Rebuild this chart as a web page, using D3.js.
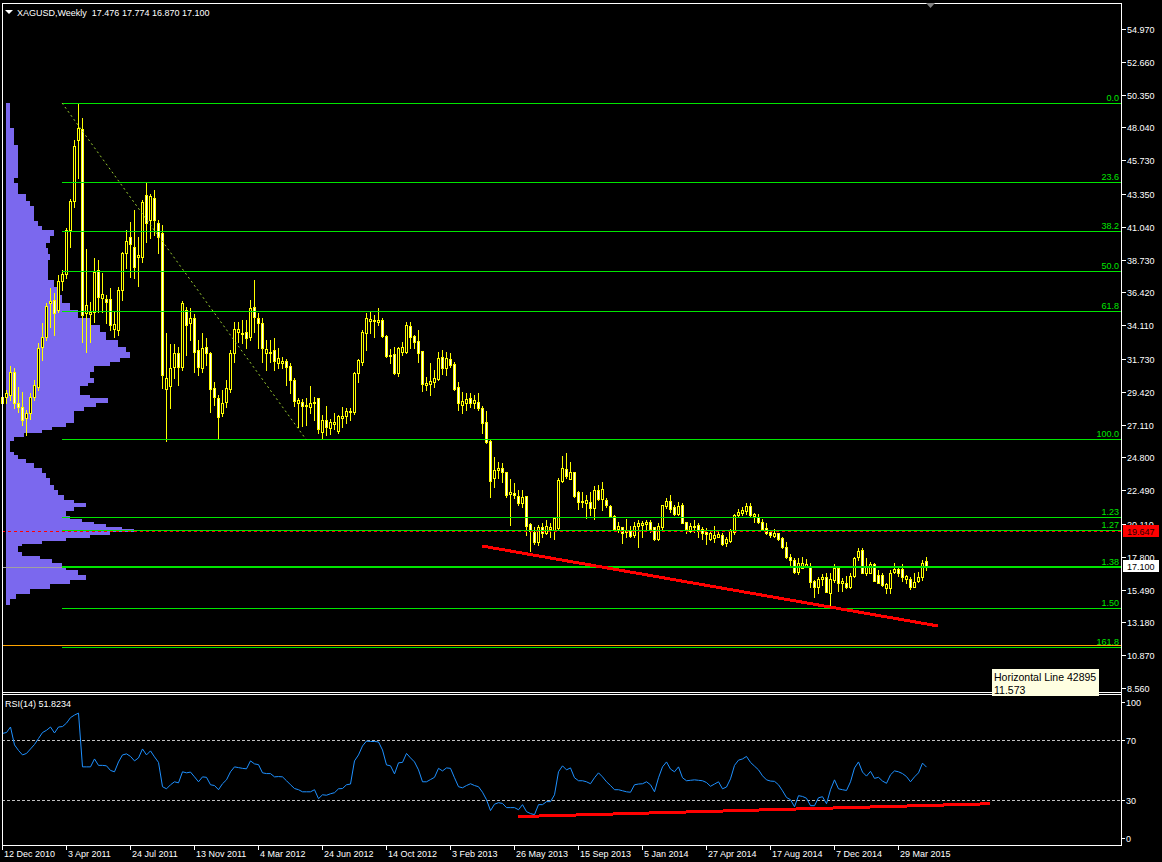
<!DOCTYPE html>
<html><head><meta charset="utf-8">
<script src="https://cdn.jsdelivr.net/npm/d3@7"></script>
<style>
html,body{margin:0;padding:0;background:#000;overflow:hidden;}
svg{display:block;}
text{font-family:"Liberation Sans",Arial,sans-serif;font-size:9px;}
</style></head><body>
<svg id="c" width="1162" height="862"></svg>
<script>
// ---------------- data ----------------
const symbolTitle = "XAGUSD,Weekly  17.476 17.774 16.870 17.100";
const rsiTitle = "RSI(14) 51.8234";
const firstWeek = "2010-12-12";
const open = [
28.63,29.05,29.20,30.81,28.63,28.35,27.58,27.93,29.05,29.76,
32.57,33.28,35.67,35.89,35.18,37.22,37.72,40.82,42.86,47.15,
47.93,34.97,34.90,35.04,38.00,36.03,35.96,35.96,33.84,33.77,
36.59,39.20,40.32,39.62,38.91,38.91,43.28,41.52,43.07,41.31,
40.60,29.62,29.83,31.17,32.15,31.17,35.18,34.27,34.62,32.36,
31.10,32.57,32.15,29.69,28.98,27.93,28.70,29.62,32.15,33.63,
33.49,33.63,33.28,35.39,34.62,34.27,32.15,32.22,32.36,31.45,
31.45,31.59,31.24,30.25,28.63,28.70,28.42,28.35,28.63,28.98,
26.59,27.44,26.87,27.15,26.66,27.58,27.72,28.00,28.00,30.74,
31.52,33.56,34.41,34.41,34.34,34.48,33.35,31.94,32.08,30.74,
32.22,32.22,34.05,33.35,33.00,32.29,29.90,29.97,30.11,30.32,
31.87,31.10,31.73,31.38,29.76,28.49,28.63,28.98,28.63,28.70,
28.28,27.30,25.96,23.35,23.91,24.05,23.77,22.22,22.29,22.08,
21.59,22.08,20.11,19.55,18.84,19.90,19.48,19.76,19.69,19.83,
23.14,23.98,23.28,23.77,22.36,21.73,21.59,21.66,21.24,22.51,
21.87,21.80,21.38,20.67,19.76,19.90,19.55,19.62,19.34,19.97,
20.04,20.11,20.25,19.90,19.05,19.90,21.38,21.73,21.31,20.81,
21.45,20.25,19.62,19.90,20.04,19.76,19.55,19.05,19.12,19.20,
19.34,18.77,18.91,19.55,20.74,20.88,21.03,21.38,20.67,20.60,
20.25,19.83,19.55,19.27,19.48,19.12,18.49,17.79,17.58,16.73,
17.01,17.15,17.08,16.10,15.67,16.24,16.38,15.25,16.17,17.01,
15.96,15.96,15.67,16.45,17.79,18.28,16.66,16.66,17.29,16.52,
16.52,15.60,15.60,16.73,16.94,16.94,16.24,16.24,15.67,16.10,
16.38,17.476];
const high = [
29.90,29.55,31.24,31.10,29.76,29.41,28.14,29.34,30.25,32.86,
34.27,35.67,36.73,36.38,37.65,38.00,40.96,43.00,47.15,49.76,
48.70,39.48,35.74,38.84,38.70,37.79,36.24,36.73,35.04,36.80,
39.27,40.82,41.38,42.22,40.32,42.93,44.12,43.35,43.63,41.52,
41.17,33.56,32.79,32.79,32.57,35.81,35.39,35.32,34.90,33.07,
33.56,33.21,32.22,30.11,29.20,29.55,30.25,32.36,34.34,34.34,
34.48,34.48,35.89,37.29,34.97,34.62,33.07,33.07,33.21,32.50,
31.87,31.73,31.45,30.39,28.98,28.91,28.98,29.83,29.05,29.00,
27.79,28.42,27.51,27.93,27.79,28.35,28.28,28.28,30.81,31.70,
33.77,34.97,35.04,34.83,35.32,34.62,33.42,32.43,32.57,32.57,
32.93,34.34,34.34,33.42,33.77,32.32,30.46,31.45,30.96,32.22,
32.36,32.22,32.15,31.52,30.11,29.41,29.34,29.34,29.20,29.34,
28.42,28.07,26.03,24.83,24.48,24.41,23.80,23.28,23.00,22.51,
22.51,22.10,20.18,19.90,20.04,20.18,20.39,20.18,20.55,23.35,
24.90,25.11,24.48,23.80,22.40,22.36,22.15,22.36,22.79,22.86,
23.07,21.94,21.45,20.74,20.25,19.92,20.46,19.97,20.25,20.39,
20.32,20.39,20.39,19.92,20.18,21.48,21.94,22.15,21.45,21.66,
21.59,20.27,20.18,20.39,20.18,19.90,19.83,19.55,19.97,19.55,
19.48,19.20,19.76,20.81,21.17,21.31,21.59,21.59,20.88,20.81,
20.46,20.18,19.69,19.76,19.50,19.20,18.84,18.00,17.72,17.72,
17.79,17.65,17.36,16.17,16.38,16.59,16.66,16.66,17.29,17.03,
16.31,16.45,16.66,17.79,18.42,18.42,17.72,17.43,17.36,16.87,
16.66,15.96,16.87,17.36,17.08,17.29,16.52,16.38,16.66,16.73,
17.58,17.774];
const low = [
28.28,28.63,28.84,28.28,28.00,27.08,26.38,27.51,28.84,29.55,
31.66,33.07,33.99,33.42,35.04,36.59,37.43,39.62,42.45,44.48,
32.93,32.22,32.93,34.34,35.04,35.04,34.27,33.77,33.28,33.42,
35.89,38.14,37.50,37.43,36.87,38.56,39.97,40.25,40.46,39.20,
29.69,25.96,28.28,30.39,29.90,30.96,32.01,33.07,30.81,30.60,
30.81,31.31,28.00,28.49,26.10,27.72,28.35,29.41,31.52,32.93,
32.86,32.50,33.07,33.63,32.50,31.52,30.96,31.52,30.96,31.10,
31.10,29.90,29.34,28.42,26.94,27.01,27.08,27.93,27.44,26.52,
26.17,26.38,26.45,26.80,26.52,26.94,27.22,27.44,27.86,30.11,
31.31,32.36,33.56,33.28,34.13,33.28,31.87,31.45,30.67,30.53,
32.01,32.15,32.50,32.50,31.52,29.48,29.55,29.20,29.76,30.25,
30.67,30.60,31.17,29.55,28.14,27.93,28.14,28.35,28.28,28.14,
26.52,25.82,22.01,22.72,23.35,23.07,22.01,20.04,21.94,21.45,
21.31,19.34,18.21,18.70,18.63,19.20,19.41,19.20,19.05,19.69,
23.07,23.35,23.25,22.01,21.17,21.31,20.53,20.74,20.46,21.80,
21.10,21.31,20.60,19.72,19.55,18.77,19.20,19.20,19.20,18.49,
19.20,19.69,19.55,18.98,18.98,19.76,21.24,20.96,20.74,20.74,
20.15,19.48,19.55,19.55,19.20,19.05,18.70,18.98,18.84,19.18,
18.63,18.56,18.84,19.41,20.60,20.74,20.81,20.60,20.25,20.18,
19.69,19.41,19.20,19.20,18.98,18.42,17.72,17.23,16.66,16.59,
16.98,17.08,15.67,14.97,15.22,15.81,15.30,14.27,16.03,15.39,
15.39,15.60,15.60,16.38,17.58,16.63,16.52,16.63,16.08,15.94,
15.74,15.25,15.25,16.66,16.45,16.10,15.96,15.53,15.64,16.03,
16.17,16.870];
const close = [
29.05,29.34,30.81,28.63,28.35,27.44,27.93,29.05,29.90,32.50,
33.28,35.46,35.81,34.97,37.22,37.72,40.82,42.86,46.73,48.00,
34.83,35.53,35.04,37.86,36.10,36.31,35.74,34.13,34.20,36.59,
39.20,40.04,39.83,38.21,39.05,42.79,41.31,43.21,41.52,40.32,
30.60,30.39,31.10,32.15,31.17,35.67,34.13,34.62,32.22,31.17,
32.50,32.15,29.62,29.05,27.65,28.63,29.69,32.15,33.84,33.84,
33.56,33.21,35.32,34.69,34.27,32.50,32.43,32.25,31.59,31.80,
31.59,31.17,30.25,28.77,28.84,28.42,28.49,28.63,28.70,26.80,
27.44,26.94,27.30,27.30,27.72,27.72,28.07,28.07,30.74,31.66,
33.63,34.62,34.55,34.45,34.48,33.35,31.94,32.01,30.74,32.50,
32.57,34.13,33.28,32.93,32.15,29.97,30.04,30.18,30.39,31.80,
31.10,31.80,31.31,29.62,28.63,28.77,28.91,28.63,28.84,28.28,
27.22,25.89,23.14,23.91,24.05,23.77,22.15,22.36,22.15,21.59,
22.01,19.97,19.62,18.84,19.90,19.48,19.97,19.90,20.53,23.21,
24.05,23.49,23.77,22.08,21.66,21.76,21.80,21.24,22.51,21.87,
22.58,21.45,20.67,19.76,19.97,19.48,19.69,19.27,19.97,20.18,
20.18,20.25,19.76,19.05,19.97,21.45,21.73,21.17,20.81,21.38,
20.18,19.76,19.97,19.97,19.62,19.48,19.41,19.48,19.34,19.41,
18.70,19.05,19.62,20.74,20.96,21.10,21.38,20.74,20.81,20.25,
19.76,19.48,19.34,19.48,19.05,18.49,17.79,17.58,16.73,17.36,
17.36,17.29,16.03,15.67,16.24,16.38,15.32,16.24,17.01,15.96,
16.10,15.67,16.45,17.72,18.21,16.66,17.08,17.29,16.10,15.96,
15.81,15.88,16.66,16.94,16.66,16.38,16.45,15.67,16.03,16.38,
17.36,17.100];
const rsi = [
74.4,75,78.7,66.7,63,60,61,64,67,71,
75,76.5,78.7,74.7,78.7,79,81.3,85,86.7,88,
52,52,52,57.3,53,53,52.7,49.6,48.7,55.3,
60,60.7,59,56,58,64,60,62.7,58.7,55,
38.7,37.3,40,42,41.3,48.7,48,48.5,45.3,42,
45.3,45,40,39.5,36.7,40.7,43.3,48.7,52,51.5,
51,50.7,56,54,53.5,48,47.5,47.5,45.3,45.5,
45.3,42.7,40,37.5,36.7,35.3,35.3,35.3,36.7,30.7,
33.3,33,34,34.7,37.3,37.5,40,40.5,56,60,
66,69.3,69,69,68.7,63.3,53.3,52.7,47.3,54.7,
55,61,58,55.3,50,42,42,43.5,45,51,
49.3,51.3,51,44.7,38.7,38,39.5,40.7,39.5,38.7,
35,30,22.7,27,28,27.5,24.7,24.7,24.7,23.3,
26.7,22,20.7,20,26.7,26.7,28.7,28.7,33.3,48.7,
52.7,50,51.3,44.7,42.7,42.7,42,40.7,44.7,48,
45.3,42,39.5,36.7,36.7,36,35.3,35,40,40.5,
40.7,42,40,35.3,44.7,52,55.3,50.5,48.7,52,
44.7,42.7,43,43.3,43,42.7,41.5,39,40.5,42,
37.3,38.5,44,53,56.5,57.3,59,55,52.5,50,
46,43.3,42.5,42.3,40,36,31.5,30,25.3,32.7,
32.2,31,26,26,31.3,32,27.3,36.7,43.3,37.3,
36.7,36.2,42,51.3,55.3,48.5,45.8,49,44.3,45,
42.5,41,46.7,49.3,48.7,47.5,45.5,42,45.3,48,
54.5,51.82];
const priceTicks = [54.970,52.660,50.350,48.040,45.730,43.350,41.040,38.730,36.420,34.110,31.730,29.420,27.110,24.800,22.490,20.110,17.800,15.490,13.180,10.870,8.560];
const rsiTicks = [100,70,30,0];
const rsiLevels = [70,30];
const dateTicks = ["12 Dec 2010","3 Apr 2011","24 Jul 2011","13 Nov 2011","4 Mar 2012","24 Jun 2012","14 Oct 2012","3 Feb 2013","26 May 2013","15 Sep 2013","5 Jan 2014","27 Apr 2014","17 Aug 2014","7 Dec 2014","29 Mar 2015"];
const fibHigh = 49.76, fibLow = 26.07;
const fibAnchorBars = [15, 76];
const fibRatios = [0,0.236,0.382,0.5,0.618,1.0,1.23,1.27,1.38,1.5,1.618];
const fibLabels = ["0.0","23.6","38.2","50.0","61.8","100.0","1.23","1.27","1.38","1.50","161.8"];
const bidPrice = 17.100;
const markPrice = 19.647;
const hLinePrice = 11.573;
const hLineName = "Horizontal Line 42895";
const trendMain = [[120, 18.56],[234, 12.93]];
const trendRsi = [[129, 18.7],[247, 27.3]];
const profileEdges = [49.76,48.00,46.80,44.48,44.12,43.35,42.86,42.50,42.15,41.45,41.10,40.82,40.39,39.90,39.55,39.12,38.70,38.00,37.29,36.80,36.24,35.67,35.18,34.62,34.13,33.63,33.07,32.57,32.22,31.80,31.52,31.24,30.81,30.39,30.04,29.83,29.55,29.20,28.98,28.63,28.35,28.07,27.65,27.22,26.94,26.73,26.52,26.24,25.96,25.18,24.97,24.69,24.41,24.05,23.70,23.35,22.86,22.51,22.15,21.80,21.59,21.31,21.03,20.67,20.46,20.25,20.11,19.90,19.76,19.55,19.34,19.12,18.91,18.70,18.56,18.14,17.86,17.65,17.36,17.15,16.87,16.52,16.17,15.88,15.53,15.18,14.83,14.41];
const profileCounts = [4,8,12,8,12,20,24,28,28,32,36,48,44,40,42,44,42,42,48,52,56,64,72,84,94,100,112,120,124,114,104,88,84,88,82,74,74,84,102,90,78,68,68,60,46,36,18,8,4,8,12,20,28,36,40,44,48,52,58,68,80,68,60,64,76,88,100,116,128,104,84,60,36,16,12,16,34,46,56,60,72,80,64,44,24,10,4];

// ---------------- layout ----------------
const L = 2, R = 1121, MT = 3, MB = 691, RT = 694, RB = 845, barStep = 4;
const WEEK = 7*864e5;
const t0 = d3.utcParse("%Y-%m-%d")(firstWeek);
const n = Math.min(open.length, high.length, low.length, close.length);
const barDate = i => new Date(t0.getTime() + i*WEEK);
const x = d3.scaleUtc().domain([barDate(0), barDate(n-1)]).range([L, L + (n-1)*barStep]);
const y = d3.scaleLinear().domain([8.42, 56.87]).range([690, 2]);
const ry = d3.scaleLinear().domain([0, 100]).range([844.5, 695.2]);
const pw = d3.scaleLinear().domain([0, 100]).range([0, 100]);
const px = v => Math.round(v) + 0.5;
const bx = i => Math.round(x(barDate(i)));

const svg = d3.select("#c");
svg.append("rect").attr("width",1162).attr("height",862).attr("fill","#000");

const main = svg.append("g").attr("shape-rendering","crispEdges");

// volume profile
main.append("g").selectAll("rect").data(profileCounts).join("rect")
  .attr("x", 6)
  .attr("y", (d,i) => Math.round(y(profileEdges[i])))
  .attr("width", d => Math.round(pw(d)))
  .attr("height", (d,i) => Math.max(1, Math.round(y(profileEdges[i+1])) - Math.round(y(profileEdges[i]))))
  .attr("fill", "#7b68ee");

// candles
const cg = main.append("g");
const idx = d3.range(n);
cg.selectAll("rect.w").data(idx).join("rect").attr("class","w")
  .attr("x", i => bx(i)).attr("width", 1)
  .attr("y", i => Math.round(y(high[i])))
  .attr("height", i => Math.max(1, Math.round(y(low[i])) - Math.round(y(high[i])) + 1))
  .attr("fill", "#ffff00");
cg.selectAll("rect.b").data(idx).join("rect").attr("class","b")
  .attr("x", i => bx(i) - 0.5).attr("width", 2)
  .attr("y", i => Math.round(y(Math.max(open[i], close[i]))) + 0.5)
  .attr("height", i => Math.max(1, Math.round(y(Math.min(open[i], close[i]))) - Math.round(y(Math.max(open[i], close[i])))))
  .attr("fill", i => close[i] < open[i] ? "#ffffff" : "#000000")
  .attr("stroke", "#ffff00").attr("stroke-width", 1);

// bid line
main.append("line").attr("x1", L).attr("x2", R).attr("y1", px(y(bidPrice))).attr("y2", px(y(bidPrice)))
  .attr("stroke", "#a0a0a0");
// horizontal line object
main.append("line").attr("x1", L).attr("x2", R).attr("y1", px(y(hLinePrice))).attr("y2", px(y(hLinePrice)))
  .attr("stroke", "#ffa500");

// fibonacci
const fx0 = bx(fibAnchorBars[0]);
const fibs = fibRatios.map((r,k) => ({v: fibHigh - r*(fibHigh - fibLow), lab: fibLabels[k]}));
const fg = main.append("g");
fg.selectAll("line").data(fibs).join("line")
  .attr("x1", fx0).attr("x2", R)
  .attr("y1", d => d.lab === "1.38" ? Math.round(y(d.v)) : px(y(d.v)))
  .attr("y2", d => d.lab === "1.38" ? Math.round(y(d.v)) : px(y(d.v)))
  .attr("stroke", "#00e600").attr("stroke-width", d => d.lab === "1.38" ? 2 : 1);
svg.append("g").selectAll("text").data(fibs).join("text")
  .attr("x", R - 2).attr("y", d => Math.round(y(d.v)) - 2)
  .attr("text-anchor", "end").attr("fill", "#00e600").text(d => d.lab);
// fib diagonal
svg.append("line")
  .attr("x1", bx(fibAnchorBars[0])).attr("y1", y(fibHigh))
  .attr("x2", bx(fibAnchorBars[1])).attr("y2", y(fibLow))
  .attr("stroke", "#9acd32").attr("stroke-dasharray", "2,3").attr("stroke-width", 1);

// red dashed mark line
main.append("line").attr("x1", L).attr("x2", R).attr("y1", px(y(markPrice))).attr("y2", px(y(markPrice)))
  .attr("stroke", "#ff0000").attr("stroke-dasharray", "3,3");

// trendline main
const tl = d3.line().x(d => x(barDate(d[0]))).y(d => y(d[1]));
svg.append("path").attr("d", tl(trendMain)).attr("stroke", "#ff0000").attr("stroke-width", 3)
  .attr("fill", "none").attr("shape-rendering", "crispEdges");

// ---------------- RSI panel ----------------
const rg = svg.append("g");
rg.selectAll("line.lv").data(rsiLevels).join("line").attr("class","lv")
  .attr("x1", L).attr("x2", R).attr("y1", d => px(ry(d))).attr("y2", d => px(ry(d)))
  .attr("stroke", "#c0c0c0").attr("stroke-dasharray", "3,2").attr("shape-rendering","crispEdges");
const rl = d3.line().x((d,i) => bx(i) + 0.5).y(d => ry(d));
rg.append("path").attr("d", rl(rsi)).attr("fill","none").attr("stroke","#1e90ff").attr("stroke-width",1);
const trl = d3.line().x(d => x(barDate(d[0]))).y(d => ry(d[1]));
rg.append("path").attr("d", trl(trendRsi)).attr("stroke", "#ff0000").attr("stroke-width", 3)
  .attr("fill", "none").attr("shape-rendering", "crispEdges");

// ---------------- frames ----------------
const fr = svg.append("g").attr("stroke", "#ffffff").attr("shape-rendering","crispEdges");
fr.append("line").attr("x1", L).attr("x2", R).attr("y1", MT+0.5).attr("y2", MT+0.5);
fr.append("line").attr("x1", L+0.5).attr("x2", L+0.5).attr("y1", MT).attr("y2", RB+4);
fr.append("line").attr("x1", R+0.5).attr("x2", R+0.5).attr("y1", MT).attr("y2", RB+1);
fr.append("line").attr("x1", L).attr("x2", R+1).attr("y1", MB+1.5).attr("y2", MB+1.5);
fr.append("line").attr("x1", L).attr("x2", R+1).attr("y1", RT+0.5).attr("y2", RT+0.5);
fr.append("line").attr("x1", L).attr("x2", R+1).attr("y1", RB+0.5).attr("y2", RB+0.5);

// price axis
const pa = svg.append("g");
pa.selectAll("line").data(priceTicks).join("line")
  .attr("x1", R+1).attr("x2", R+5).attr("y1", d => px(y(d))).attr("y2", d => px(y(d)))
  .attr("stroke", "#fff").attr("shape-rendering","crispEdges");
pa.selectAll("text").data(priceTicks).join("text")
  .attr("x", R+6).attr("y", d => Math.round(y(d)) + 3.5).attr("fill", "#fff")
  .text(d => d3.format(".3f")(d));

// rsi axis
const clampR = v => Math.max(RT + 8, Math.min(RB - 7, ry(v)));
const ra = svg.append("g");
ra.selectAll("line").data(rsiTicks).join("line")
  .attr("x1", R+1).attr("x2", R+4).attr("y1", d => px(clampR(d))).attr("y2", d => px(clampR(d)))
  .attr("stroke", "#fff").attr("shape-rendering","crispEdges");
ra.selectAll("text").data(rsiTicks).join("text")
  .attr("x", R+5).attr("y", d => Math.round(clampR(d)) + 3.5).attr("fill", "#fff").text(d => d);

// date axis
const parseD = d3.utcParse("%d %b %Y");
const da = svg.append("g");
da.selectAll("line").data(dateTicks).join("line")
  .attr("x1", d => px(x(parseD(d)))).attr("x2", d => px(x(parseD(d))))
  .attr("y1", RB).attr("y2", RB+5).attr("stroke","#fff").attr("shape-rendering","crispEdges");
da.selectAll("text").data(dateTicks).join("text")
  .attr("x", d => Math.round(x(parseD(d))) + 2).attr("y", RB + 12).attr("fill","#fff").text(d => d);

// price boxes
const mb = svg.append("g");
mb.append("rect").attr("x", R+2).attr("y", Math.round(y(markPrice)) - 6).attr("width", 36).attr("height", 12).attr("fill", "#ff0000");
mb.append("text").attr("x", R+6).attr("y", Math.round(y(markPrice)) + 3.5).attr("fill", "#200000").text(d3.format(".3f")(markPrice));
mb.append("rect").attr("x", R+2).attr("y", Math.round(y(bidPrice)) - 7).attr("width", 36).attr("height", 12).attr("fill", "#ffffff");
mb.append("text").attr("x", R+6).attr("y", Math.round(y(bidPrice)) + 3).attr("fill", "#000").text(d3.format(".3f")(bidPrice));

// titles
svg.append("path").attr("d", "M5,10 L13,10 L9,14 Z").attr("fill", "#fff");
svg.append("text").attr("x", 17).attr("y", 15.5).attr("fill", "#fff").attr("xml:space","preserve")
  .style("white-space","pre").text(symbolTitle);
svg.append("text").attr("x", 5).attr("y", 706.5).attr("fill", "#fff").text(rsiTitle);
// chart shift marker
svg.append("path").attr("d", "M926,3 L935,3 L930.5,8 Z").attr("fill", "#808080");

// tooltip
const tt = svg.append("g");
tt.append("rect").attr("x", 992).attr("y", 669).attr("width", 107).attr("height", 27).attr("fill", "#ffffe1")
  .attr("shape-rendering","crispEdges");
tt.append("text").attr("x", 994).attr("y", 680.5).attr("fill", "#000").style("font-size","10.5px").text(hLineName);
tt.append("text").attr("x", 994).attr("y", 693.5).attr("fill", "#000").style("font-size","10.5px").text(d3.format(".3f")(hLinePrice));
</script>
</body></html>
